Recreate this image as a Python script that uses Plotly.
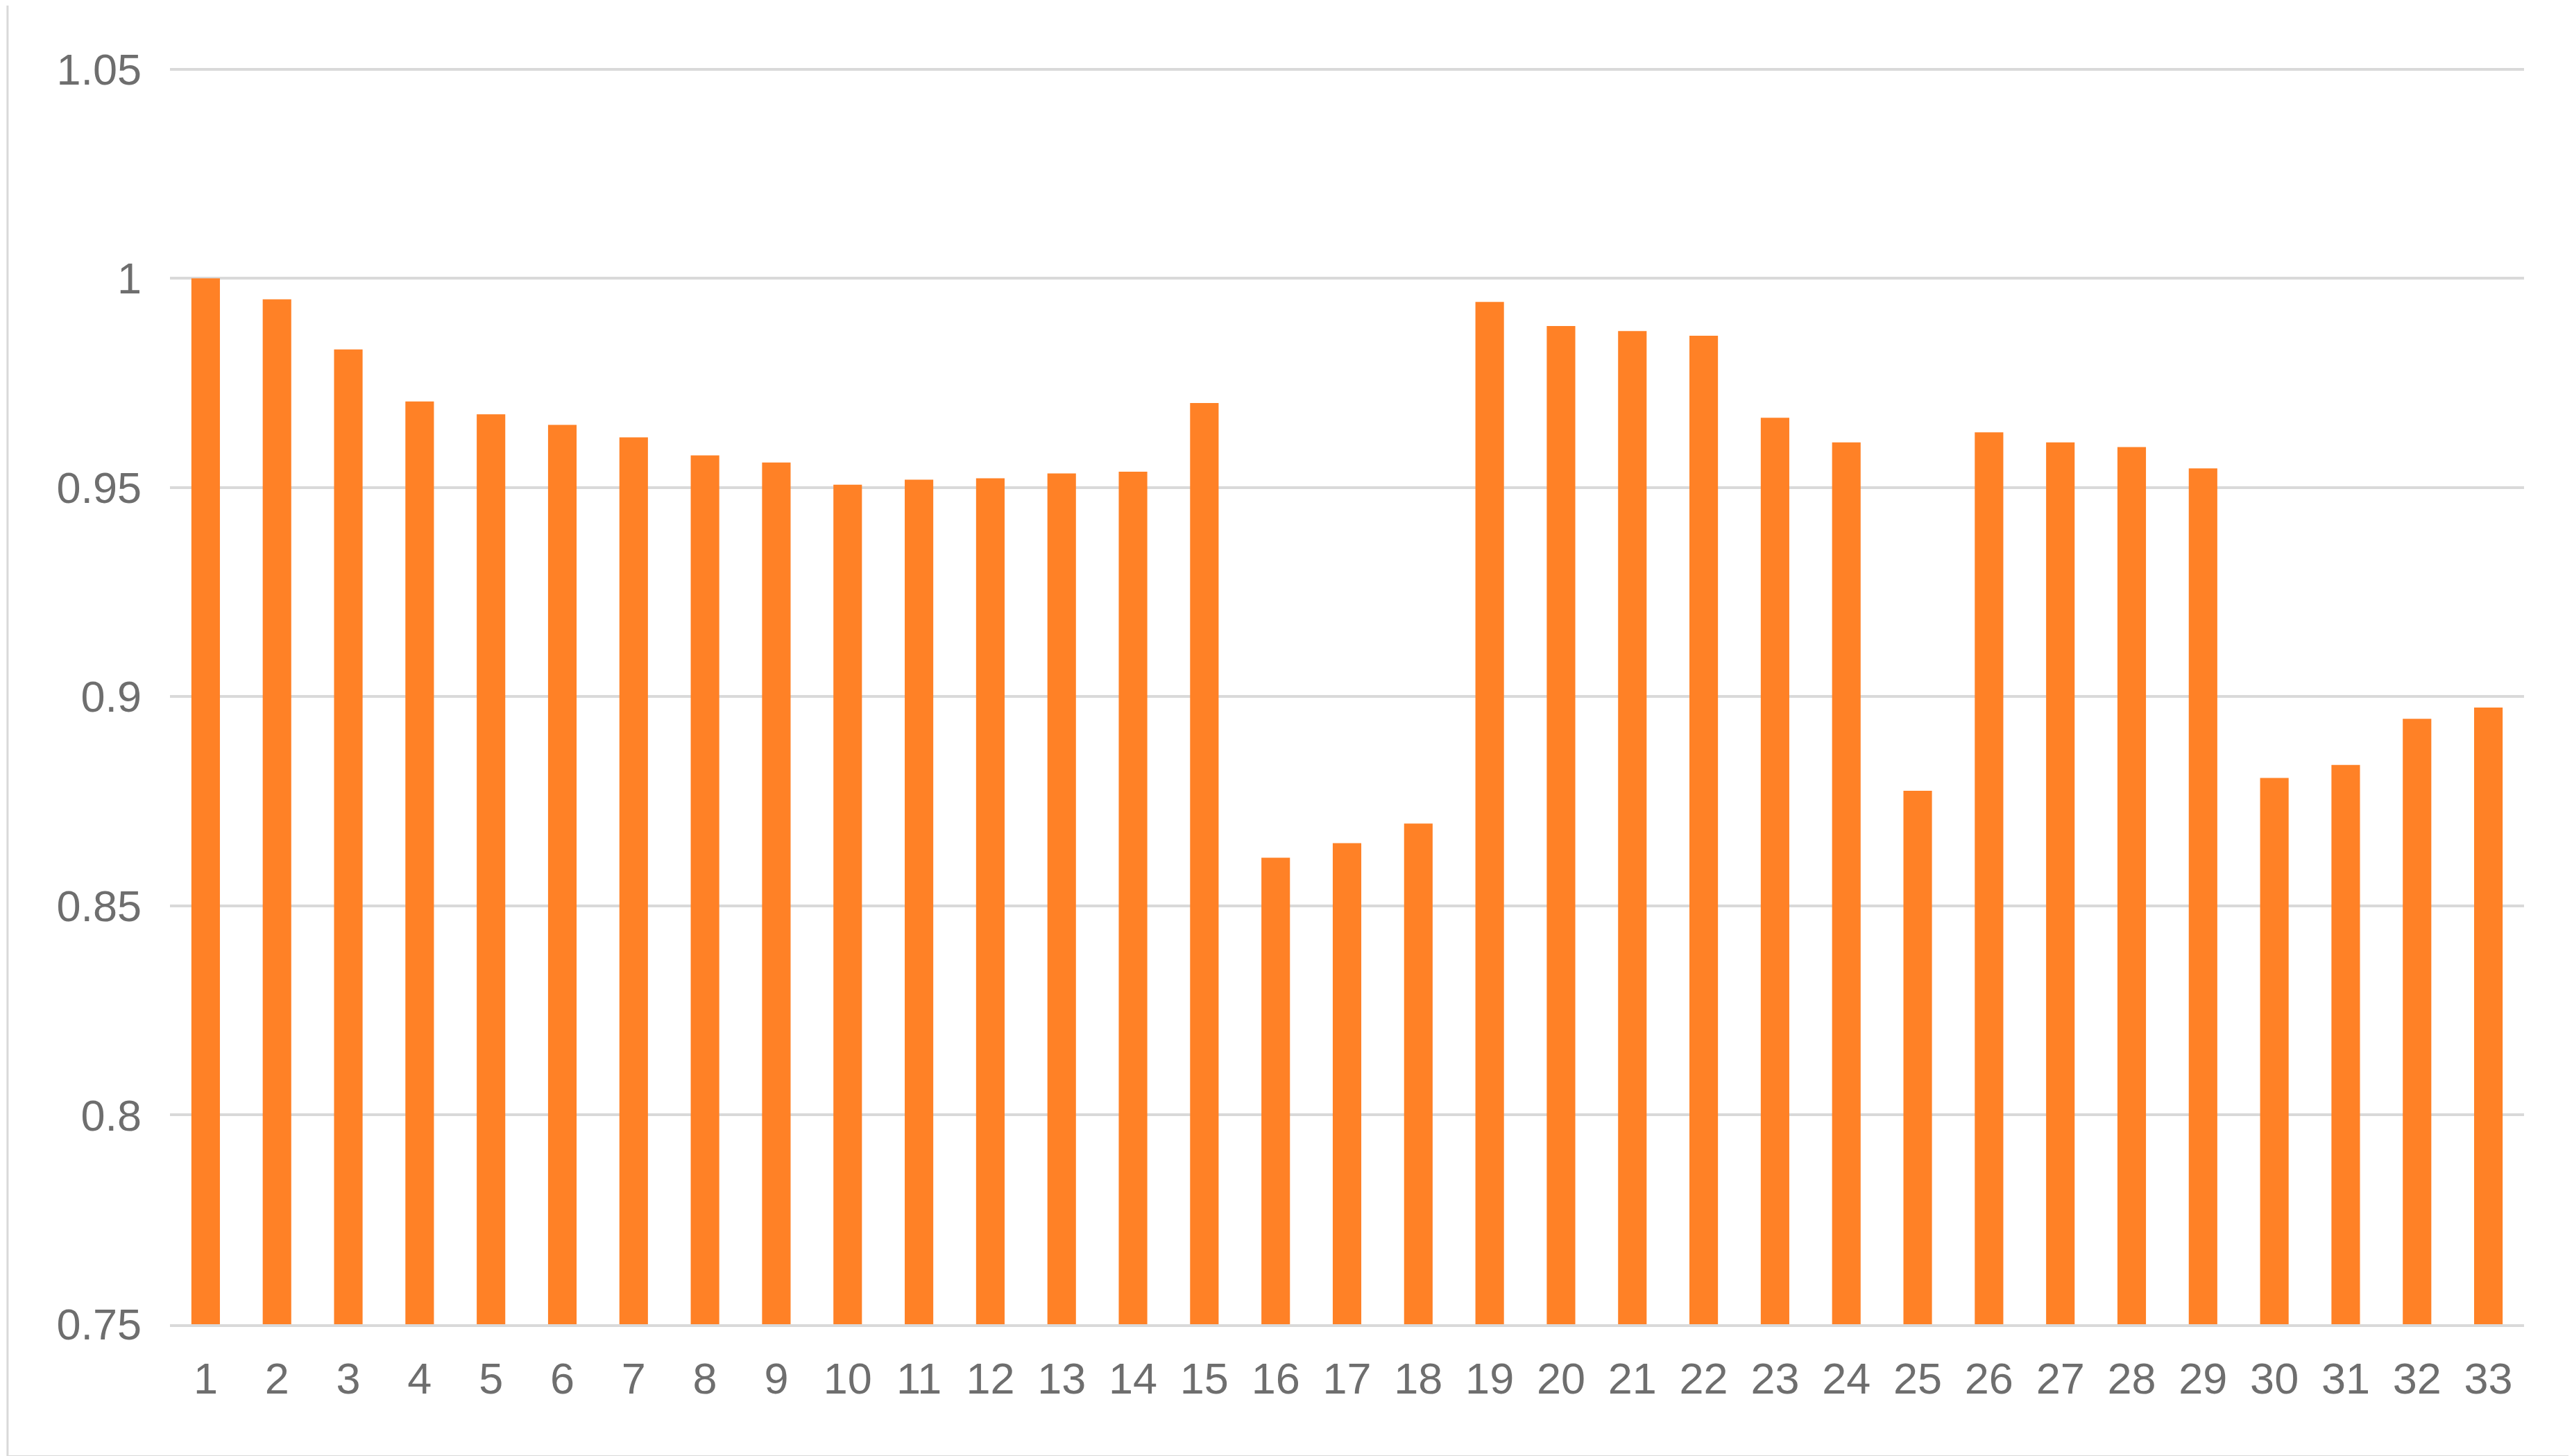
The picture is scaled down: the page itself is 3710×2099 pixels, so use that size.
import plotly.graph_objects as go

categories = [str(i) for i in range(1, 34)]
values = [1.0, 0.995, 0.983, 0.9706, 0.9675, 0.965, 0.962, 0.9577, 0.956, 0.9507,
          0.9519, 0.9522, 0.9534, 0.9538, 0.9702, 0.8615, 0.865, 0.8697, 0.9944, 0.9886,
          0.9874, 0.9863, 0.9667, 0.9608, 0.8775, 0.9632, 0.9608, 0.9597, 0.9546, 0.8806,
          0.8837, 0.8947, 0.8974]
tick_vals = [0.75, 0.8, 0.85, 0.9, 0.95, 1.0, 1.05]
tick_text = ["0.75", "0.8", "0.85", "0.9", "0.95", "1", "1.05"]

fig = go.Figure(go.Bar(x=categories, y=values, marker_color="#FF8126",
                       marker_line_width=0, width=0.4))
fig.update_layout(
    width=3710, height=2099, paper_bgcolor="white", plot_bgcolor="white",
    margin=dict(l=237, r=80, t=87, b=198),
    font=dict(family="Liberation Sans, Arial", size=63, color="#6E6E6E"),
    showlegend=False,
    shapes=[dict(type="rect", xref="paper", yref="paper", x0=-0.069, x1=1.03,
                 y0=-0.105, y1=1.05, line=dict(color="#D9D9D9", width=3))],
)
fig.update_xaxes(type="category", showgrid=False, showline=True, linecolor="#D9D9D9",
                 linewidth=4, ticks="", ticklabelstandoff=20)
fig.update_yaxes(range=[0.75, 1.0508], tickvals=tick_vals, ticktext=tick_text,
                 showgrid=True, gridcolor="#D9D9D9", gridwidth=4, zeroline=False,
                 ticks="", ticklabelstandoff=40)
fig.write_html("out.html")
